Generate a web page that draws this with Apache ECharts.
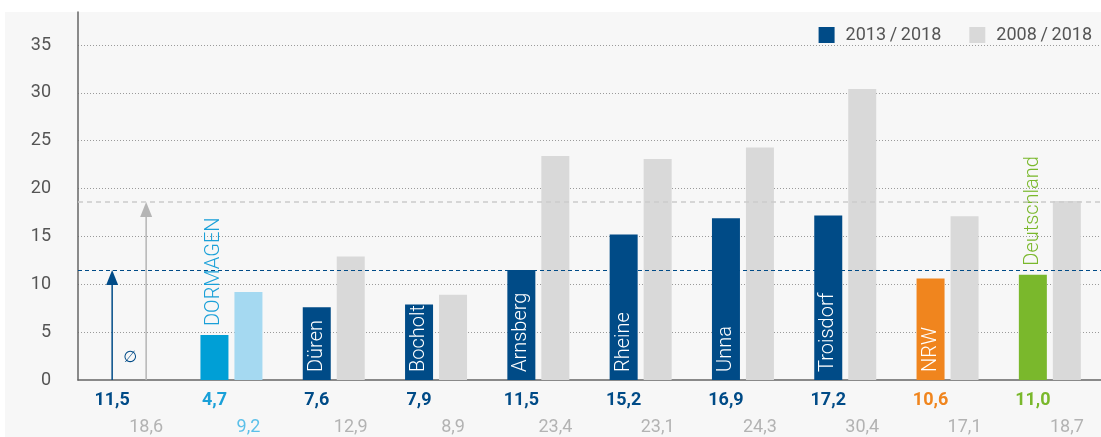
<!DOCTYPE html>
<html>
<head>
<meta charset="utf-8">
<script src="https://cdn.jsdelivr.net/npm/echarts@6/dist/echarts.min.js"></script>
<style>
  html, body { margin: 0; padding: 0; background: #ffffff; }
  #chart { width: 1101px; height: 437px; }
</style>
</head>
<body>
<div id="chart"></div>
<script>
// Categories: first slot holds the average (Ø), the rest are the places compared
const categories = ['Ø', 'DORMAGEN', 'Düren', 'Bocholt', 'Arnsberg', 'Rheine', 'Unna', 'Troisdorf', 'NRW', 'Deutschland'];

// Change in percent, 2013/2018 and 2008/2018
const change2013 = [null, 4.7, 7.6, 7.9, 11.5, 15.2, 16.9, 17.2, 10.6, 11.0];
const change2008 = [null, 9.2, 12.9, 8.9, 23.4, 23.1, 24.3, 30.4, 17.1, 18.7];

// Averages shown as arrows and reference lines
const avg2013 = 11.5;
const avg2008 = 18.6;

// Value axis
const yMin = 0;
const yMax = 38.45;
const yStep = 5;

const seriesNames = ['2013\u2009/\u20092018', '2008\u2009/\u20092018'];

// Colours
const DARK = '#004b87';
const GREY = '#d9d9d9';
const darkColors = ['#004b87', '#009fd6', DARK, DARK, DARK, DARK, DARK, DARK, '#f0851e', '#7ab82c'];
const lightColors = ['#b5b5b5', '#a5d9f1', GREY, GREY, GREY, GREY, GREY, GREY, GREY, GREY];
const row1Colors = ['#004b87', '#1aa0d8', DARK, DARK, DARK, DARK, DARK, DARK, '#f0851e', '#7ab82c'];
const row2Colors = ['#b3b3b3', '#5cc0e9', '#b3b3b3', '#b3b3b3', '#b3b3b3', '#b3b3b3', '#b3b3b3', '#b3b3b3', '#b3b3b3', '#b3b3b3'];
// Places whose name sits above the bar instead of inside it
const nameAbove = [false, true, false, false, false, false, false, false, false, true];

const FONT = 'Roboto, "Noto Sans", sans-serif';
const fmt = v => v.toFixed(1).replace('.', ',');

// Rich text styles for the two value rows under the axis
const rich = { gap: { width: 34 } };
categories.forEach((c, i) => {
  rich['d' + i] = { color: row1Colors[i], fontFamily: FONT, fontSize: 18, fontWeight: 'bold', lineHeight: 27 };
  rich['l' + i] = { color: row2Colors[i], fontFamily: FONT, fontSize: 18, lineHeight: 27 };
});

const darkData = change2013.map((v, i) => {
  if (v == null) return '-';
  const above = nameAbove[i];
  return {
    value: v,
    itemStyle: { color: darkColors[i] },
    label: above
      ? { show: true, position: 'top', distance: 9, color: darkColors[i] === '#009fd6' ? '#1aa0d8' : darkColors[i] }
      : { show: true, position: 'insideBottom', distance: 8, color: '#ffffff' }
  };
});

const lightData = change2008.map((v, i) => v == null ? '-' : { value: v, itemStyle: { color: lightColors[i] } });

const chart = echarts.init(document.getElementById('chart'), null, { renderer: 'canvas' });

chart.setOption({
  animation: false,
  backgroundColor: '#ffffff',
  graphic: [{
    type: 'rect', left: 5, top: 12, z: -10,
    shape: { width: 1096, height: 425 },
    style: { fill: '#f7f7f7' }
  }],
  legend: {
    data: seriesNames,
    right: 4,
    top: 21,
    icon: 'rect',
    itemWidth: 16,
    itemHeight: 16,
    itemGap: 28,
    selectedMode: false,
    textStyle: { fontFamily: FONT, fontSize: 18, color: '#555555', padding: [0, 0, 0, 6] }
  },
  grid: { left: 78, right: -13, top: 12, bottom: 57, containLabel: false },
  xAxis: {
    type: 'category',
    data: categories,
    axisLine: { show: true, lineStyle: { color: '#666666', width: 1.5 } },
    axisTick: { show: false },
    axisLabel: {
      interval: 0,
      margin: 7,
      formatter: (value, idx) => {
        const a = idx === 0 ? avg2013 : change2013[idx];
        const b = idx === 0 ? avg2008 : change2008[idx];
        return '{d' + idx + '|' + fmt(a) + '}{gap|}\n{gap|}{l' + idx + '|' + fmt(b) + '}';
      },
      rich: rich
    },
    splitLine: { show: false }
  },
  yAxis: {
    type: 'value',
    min: yMin,
    max: yMax,
    interval: yStep,
    axisLine: { show: true, lineStyle: { color: '#666666', width: 1.5 } },
    axisTick: { show: false },
    axisLabel: { showMaxLabel: false, margin: 27, fontFamily: FONT, fontSize: 18, color: '#555555' },
    splitLine: { show: true, showMinLine: false, showMaxLine: false, lineStyle: { color: '#9a9a9a', type: [1, 2], width: 1 } }
  },
  series: [
    {
      name: seriesNames[0],
      type: 'bar',
      barWidth: 28,
      barGap: '21.4%',
      itemStyle: { color: DARK },
      label: {
        show: true,
        rotate: 90,
        align: 'left',
        verticalAlign: 'middle',
        fontFamily: FONT,
        fontSize: 20,
        fontWeight: 300,
        formatter: p => categories[p.dataIndex]
      },
      data: darkData,
      z: 3
    },
    {
      name: seriesNames[1],
      type: 'bar',
      barWidth: 28,
      itemStyle: { color: GREY },
      data: lightData,
      z: 3
    },
    {
      // Average arrows plus the dashed reference lines across the plot
      type: 'custom',
      z: 1,
      silent: true,
      data: [[0, avg2013, -1], [0, avg2008, 1]],
      renderItem: (params, api) => {
        const cat = api.value(0);
        const v = api.value(1);
        const side = api.value(2);
        const base = api.coord([cat, 0]);
        const tip = api.coord([cat, v]);
        const x = base[0] + side * 17;
        const color = side < 0 ? DARK : '#b5b5b5';
        const children = [
          { type: 'line', shape: { x1: x, y1: base[1], x2: x, y2: tip[1] + 12 }, style: { stroke: color, lineWidth: 1.5 } },
          { type: 'polygon', shape: { points: [[x, tip[1]], [x - 6, tip[1] + 15], [x + 6, tip[1] + 15]] }, style: { fill: color } }
        ];
        if (side < 0) {
          children.push({
            type: 'text',
            style: { text: '\u2205', x: base[0] + 1, y: base[1] - 22, fill: DARK, font: '16px "DejaVu Sans"', align: 'center', verticalAlign: 'middle' }
          });
        }
        return { type: 'group', children: children };
      },
      markLine: {
        silent: true,
        symbol: 'none',
        label: { show: false },
        data: [
          { yAxis: avg2013, lineStyle: { color: DARK, type: [4, 3], width: 1.2 } },
          { yAxis: avg2008, lineStyle: { color: '#cccccc', type: [5, 4], width: 1.5 } }
        ]
      }
    }
  ]
});
</script>
</body>
</html>
